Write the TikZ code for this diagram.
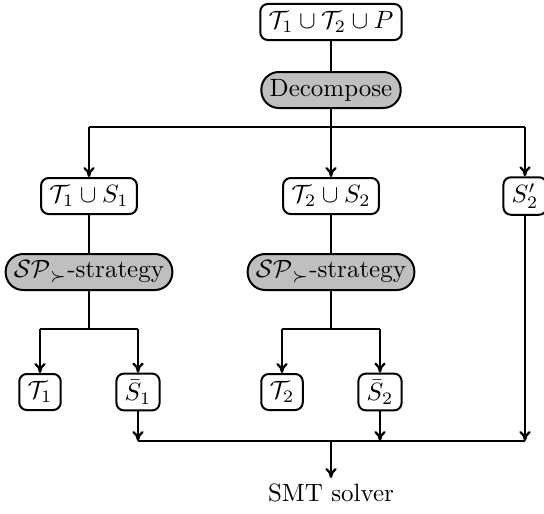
\documentclass[tikz,border=0pt]{standalone}
\usetikzlibrary{arrows.meta}
\begin{document}
\begin{tikzpicture}[x=0.4pt,y=-0.4pt,
  box/.style={draw, thick, rounded corners=3pt, fill=white, inner xsep=3.33pt, inner ysep=2.5pt, minimum height=14.4pt},
  proc/.style={draw, thick, rounded corners=7pt, fill=gray!50, inner xsep=3.33pt, inner ysep=2.5pt, minimum height=14.4pt},
  conn/.style={line width=0.9pt},
  arr/.style={line width=0.9pt,-{To[length=4pt,width=4.5pt]}}]
\useasboundingbox (0,0) rectangle (544,513);

% nodes
\node[box]  (top)  at (331,22)  {$\mathcal{T}_1\cup\mathcal{T}_2\cup P$};
\node[proc] (dec)  at (331,90)  {Decompose};
\node[box]  (t1s1) at (89,196)  {$\mathcal{T}_1\cup S_1$};
\node[box]  (t2s2) at (331,196) {$\mathcal{T}_2\cup S_2$};
\node[box]  (s2p)  at (525,196) {$S_2'$};
\node[proc] (sp1)  at (89,272)  {$\mathcal{SP}_{\succ}$-strategy};
\node[proc] (sp2)  at (331,272) {$\mathcal{SP}_{\succ}$-strategy};
\node[box]  (t1)   at (40,392)  {$\mathcal{T}_1$};
\node[box]  (sb1)  at (138,392) {$\bar{S}_1$};
\node[box]  (t2)   at (282,392) {$\mathcal{T}_2$};
\node[box]  (sb2)  at (380,392) {$\bar{S}_2$};
\node[anchor=north, inner sep=2pt] (smt) at (331,478) {SMT solver};

% junction points
\coordinate (split) at (331,127);
\coordinate (b1) at (89,329);
\coordinate (b2) at (331,329);
\coordinate (merge) at (331,441);

% decomposition
\draw[conn] (top) -- (dec);
\draw[conn] (dec) -- (split);
\draw[conn] (t1s1.north |- split) -- (s2p.north |- split);
\draw[arr] (t1s1.north |- split) -- (t1s1);
\draw[arr] (split) -- (t2s2);
\draw[arr] (s2p.north |- split) -- (s2p);

% strategies
\draw[conn] (t1s1) -- (sp1);
\draw[conn] (t2s2) -- (sp2);
\draw[conn] (sp1) -- (b1);
\draw[conn] (sp2) -- (b2);
\draw[conn] (t1.north |- b1) -- (sb1.north |- b1);
\draw[conn] (t2.north |- b2) -- (sb2.north |- b2);
\draw[arr] (t1.north |- b1) -- (t1);
\draw[arr] (sb1.north |- b1) -- (sb1);
\draw[arr] (t2.north |- b2) -- (t2);
\draw[arr] (sb2.north |- b2) -- (sb2);

% collection
\draw[conn] (sb1.south |- merge) -- (s2p.south |- merge);
\draw[arr] (sb1) -- (sb1.south |- merge);
\draw[arr] (sb2) -- (sb2.south |- merge);
\draw[arr] (s2p) -- (s2p.south |- merge);
\draw[arr] (merge) -- (smt);
\end{tikzpicture}
\end{document}
